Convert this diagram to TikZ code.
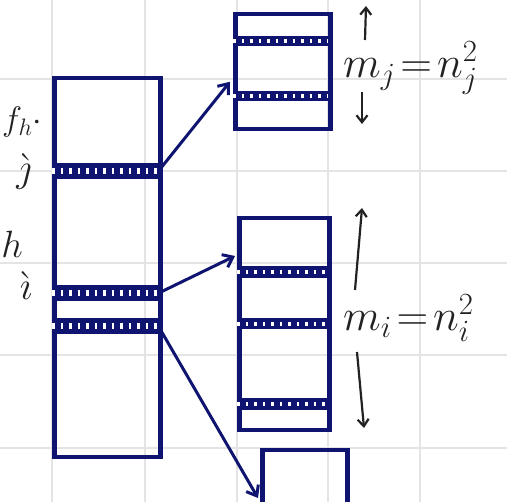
\RequirePackage{fix-cm}
\documentclass[tikz,border=0pt]{standalone}
\usepackage{amsmath}
\usepackage{tikz}
\usetikzlibrary{arrows.meta,positioning,calc}
\definecolor{inkBlue}{HTML}{0F1470}
\definecolor{inkDark}{HTML}{222222}
\definecolor{gridGray}{HTML}{E4E4E4}
\tikzset{
    blk/.style={
        rectangle,
        draw=inkBlue,
        line width=4.5pt,
        inner sep=0pt,
        anchor=north west
    },
    band/.style={
        rectangle,
        fill=inkBlue,
        inner sep=0pt,
        anchor=north west,
        path picture={
            \draw[white, line width=#1, dash pattern=on 2.5pt off 6pt]
                (path picture bounding box.west) -- (path picture bounding box.east);
        }
    },
    band/.default=6pt,
    % Arrows
    inkArr/.style={-{Straight Barb[length=9pt,width=14pt]}, line width=3pt, draw=inkBlue},
    dimArr/.style={-{Straight Barb[length=7pt,width=11pt]}, line width=2.2pt, draw=inkDark},
    lbl/.style={text=inkDark, inner sep=0pt, font=\fontsize{44}{48}\selectfont}
}
\begin{document}
\begin{tikzpicture}[x=1pt,y=-1pt]
\useasboundingbox (0,0) rectangle (507,502);

% paper grid
\foreach \gx in {52,145,237,328,420} \draw[gridGray, line width=1.2pt] (\gx,0) -- (\gx,502);
\foreach \gy in {79,171,263,355,448} \draw[gridGray, line width=1.2pt] (0,\gy) -- (507,\gy);

% big block
\node[blk, minimum width=106pt, minimum height=379pt] (big) at (52,76) {};
\node[band, minimum width=106pt, minimum height=16pt] (bandJ) at (52,163) {};
\node[band, minimum width=106pt, minimum height=16pt] (bandI) at (52,285) {};
\node[band, minimum width=106pt, minimum height=16pt] (bandK) at (52,318) {};

% top right block
\node[blk, minimum width=95pt, minimum height=115pt] (topBox) at (233,12) {};
\node[band=4pt, minimum width=95pt, minimum height=10pt] (topB1) at (233,36) {};
\node[band=4pt, minimum width=95pt, minimum height=10pt] (topB2) at (233,91) {};

% middle right block
\node[blk, minimum width=90pt, minimum height=212pt] (midBox) at (237,216) {};
\node[band=4pt, minimum width=90pt, minimum height=12pt] (midB1) at (237,266) {};
\node[band=4pt, minimum width=90pt, minimum height=11pt] (midB2) at (237,318) {};
\node[band=4pt, minimum width=90pt, minimum height=12pt] (midB3) at (237,398) {};

% bottom block (runs off the page)
\node[blk, minimum width=85pt, minimum height=70pt] (lowBox) at (260,448) {};

\draw[inkArr] (bandJ.east) -- ([xshift=-3pt,yshift=-10pt]topBox.west);
\draw[inkArr] (bandI.east) -- ([xshift=-2pt,yshift=-40pt]midBox.north west);
\draw[inkArr] (bandK.east) -- ([xshift=-2pt,yshift=-50pt]lowBox.north west);

% sizes
\node[lbl, anchor=west] (mj) at (343,68) {$m_j\!=\!n_j^2$};
\coordinate (mjTop) at (366,6);
\coordinate (mjBot) at (362,124);
\draw[dimArr] (365,40) -- (mjTop);
\draw[dimArr] (362,92) -- (mjBot);

\node[lbl, anchor=west] (mi) at (343,318) {$m_i\!=\!n_i^2$};
\coordinate (miTop) at (362,208);
\coordinate (miBot) at (364,428);
\draw[dimArr] (355,290) -- (miTop);
\draw[dimArr] (357,352) -- (miBot);

% left labels
\node[lbl, font=\fontsize{34}{36}\selectfont] (fh) at (22,122) {$f_h{\cdot}$};
\node[lbl, font=\fontsize{40}{42}\selectfont] (jl) at (24,172) {$\grave{\jmath}$};
\node[lbl, font=\fontsize{38}{40}\selectfont] (hl) at (12,244) {$h$};
\node[lbl, font=\fontsize{40}{42}\selectfont] (il) at (26,286) {$\grave{\imath}$};
\end{tikzpicture}
\end{document}
